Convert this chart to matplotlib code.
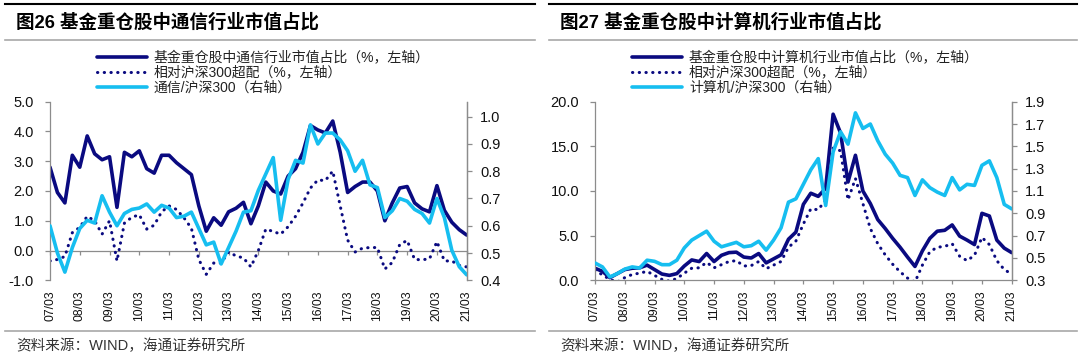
import numpy as np
import pandas as pd
import matplotlib
matplotlib.use('agg')
from matplotlib import pyplot as plt
from matplotlib.lines import Line2D

plt.rcParams['font.family'] = ['Liberation Sans', 'Noto Sans CJK SC', 'DejaVu Sans']

# quarterly dates, 2007Q1 .. 2021Q1
quarters = pd.period_range('2007Q1', '2021Q1', freq='Q')
years = list(range(2007, 2022))
year_labels = ['%02d/03' % (y % 100) for y in years]

# fig 26: telecom
tel_share = [2.8, 1.95, 1.6, 3.2, 2.8, 3.85, 3.25, 3.05, 3.15, 1.45,
             3.3, 3.15, 3.35, 2.75, 2.6, 3.2, 3.2, 2.95, 2.75, 2.55,
             1.5, 0.65, 1.1, 0.85, 1.3, 1.42, 1.62, 0.9, 1.5, 2.3,
             2.0, 1.9, 2.5, 2.75, 3.3, 4.2, 4.05, 3.95, 4.35, 3.3,
             1.95, 2.15, 2.3, 2.3, 2.0, 1.0, 1.6, 2.1, 2.15, 1.6,
             1.4, 1.3, 2.18, 1.35, 0.95, 0.7, 0.52]
tel_over = [-0.35, -0.3, -0.2, 0.6, 0.78, 1.15, 1.0, 0.55, 1.0, -0.35,
            0.92, 1.12, 1.2, 0.72, 0.85, 1.3, 1.5, 1.38, 1.1, 0.75,
            -0.3, -0.8, -0.42, -0.42, -0.05, -0.18, -0.25, -0.55, 0.0, 0.72,
            0.64, 0.55, 0.8, 1.15, 1.6, 2.1, 2.37, 2.35, 2.67, 1.5,
            0.35, -0.05, 0.08, 0.1, 0.1, -0.62, -0.4, 0.2, 0.34, -0.3,
            -0.31, -0.28, 0.3, -0.35, -0.35, -0.5, -0.55]
tel_rel = [0.60, 0.50, 0.43, 0.52, 0.59, 0.62, 0.61, 0.71, 0.65, 0.60,
           0.645, 0.66, 0.665, 0.68, 0.65, 0.675, 0.665, 0.63, 0.635, 0.65,
           0.59, 0.53, 0.54, 0.46, 0.52, 0.58, 0.65, 0.655, 0.73, 0.79,
           0.85, 0.62, 0.77, 0.84, 0.83, 0.97, 0.90, 0.94, 0.94, 0.915,
           0.875, 0.80, 0.84, 0.75, 0.74, 0.63, 0.655, 0.70, 0.69, 0.66,
           0.645, 0.61, 0.70, 0.63, 0.51, 0.45, 0.42]

# fig 27: computer
comp_share = [1.35, 1.0, 0.3, 0.75, 1.2, 1.35, 1.4, 1.7, 1.2, 0.7,
              0.55, 0.75, 1.6, 2.28, 2.1, 3.0, 2.1, 2.8, 3.1, 3.15,
              2.6, 2.5, 3.0, 1.95, 2.4, 2.85, 4.6, 5.4, 8.5, 9.75,
              9.4, 10.3, 18.6, 16.5, 11.0, 14.0, 10.0, 8.6, 6.8, 5.8,
              4.7, 3.7, 2.6, 1.55, 3.3, 4.7, 5.5, 5.6, 6.2, 4.95,
              4.5, 4.0, 7.5, 7.2, 4.5, 3.6, 3.1]
comp_over = [1.15, 0.6, 0.1, -0.2, 0.3, 0.65, 0.8, 1.0, 0.55, 0.1,
             -0.1, 0.2, 0.8, 1.35, 1.4, 2.0, 1.4, 1.75, 2.1, 2.2,
             1.6, 1.65, 2.1, 1.3, 1.7, 2.1, 3.7, 4.4, 6.3, 8.0,
             7.9, 9.0, 14.8, 14.5, 9.0, 11.4, 8.6, 5.8, 4.1, 2.85,
             1.8, 0.95, 0.25, -0.2, 1.7, 3.2, 3.7, 3.8, 4.1, 2.7,
             2.2, 2.8, 4.8, 4.0, 2.2, 1.2, 0.7]
comp_rel = [0.455, 0.42, 0.33, 0.36, 0.40, 0.42, 0.41, 0.48, 0.47, 0.44,
            0.44, 0.48, 0.59, 0.66, 0.70, 0.74, 0.65, 0.60, 0.62, 0.64,
            0.60, 0.61, 0.65, 0.57, 0.66, 0.77, 1.0, 1.03, 1.16, 1.29,
            1.39, 0.97, 1.45, 1.63, 1.52, 1.80, 1.66, 1.70, 1.55, 1.43,
            1.35, 1.24, 1.22, 1.06, 1.20, 1.13, 1.09, 1.06, 1.22, 1.11,
            1.16, 1.15, 1.33, 1.37, 1.22, 0.98, 0.94]

tel_legend = ['基金重仓股中通信行业市值占比（%，左轴）',
              '相对沪深300超配（%，左轴）',
              '通信/沪深300（右轴）']
comp_legend = ['基金重仓股中计算机行业市值占比（%，左轴）',
               '相对沪深300超配（%，左轴）',
               '计算机/沪深300（右轴）']

NAVY = '#0A0A80'
SKY = '#16BEF0'
GRAY = '#8C8C8C'

W, H = 1080, 357
fig = plt.figure(figsize=(W / 100, H / 100), dpi=100)

x = quarters.year + (quarters.quarter - 1) / 4.0


def fx(px):
    return px / W


def fy(py):
    return 1 - py / H


def panel(x0, x1, ax_left, title, leg_labels, share, over, rel,
          lim1, ticks1, lim2, ticks2, zero_line):
    # frame lines
    fig.add_artist(Line2D([fx(x0), fx(x1)], [fy(4), fy(4)], color='black', lw=1.5))
    fig.add_artist(Line2D([fx(x0), fx(x1)], [fy(39.5), fy(39.5)], color='#A8A8A8', lw=1.2))
    fig.add_artist(Line2D([fx(x0), fx(x1)], [fy(331), fy(331)], color='#A8A8A8', lw=1.2))
    fig.text(fx(x0 + 11.5), fy(22.5), title, fontsize=13.3, fontweight='bold',
             va='center', ha='left', color='black')
    fig.text(fx(x0 + 11.5), fy(346), '资料来源：WIND，海通证券研究所', fontsize=10.5,
             va='center', ha='left', color='#333333')

    ax = fig.add_axes([fx(ax_left), fy(280.3), fx(416.7), fy(101.7) - fy(280.3)])
    ax2 = ax.twinx()

    l1, = ax.plot(x, share, color=NAVY, lw=2.6, solid_capstyle='round')
    l2, = ax.plot(x, over, color=NAVY, lw=2.2, linestyle=(0, (0.1, 2.1)),
                  dash_capstyle='round')
    l3, = ax2.plot(x, rel, color=SKY, lw=2.6, solid_capstyle='round')

    ax.set_xlim(2007, 2021)
    ax.set_ylim(*lim1)
    ax.set_yticks(ticks1)
    ax.set_yticklabels(['%.1f' % t for t in ticks1])
    ax2.set_ylim(*lim2)
    ax2.set_yticks(ticks2)
    ax2.set_yticklabels(['%.1f' % t for t in ticks2])

    ax.set_xticks(years)
    ax.set_xticklabels(year_labels, rotation=90, fontsize=8.8)

    for a in (ax, ax2):
        a.spines['top'].set_visible(False)
        for s in ('left', 'right', 'bottom'):
            a.spines[s].set_color(GRAY)
            a.spines[s].set_linewidth(0.9)
    ax2.spines['bottom'].set_visible(False)
    ax2.spines['left'].set_visible(False)

    ax.tick_params(axis='y', direction='out', length=3.5, width=0.9, color=GRAY,
                   pad=8, labelsize=10.5, labelcolor='#111111')
    ax2.tick_params(axis='y', direction='out', length=3.5, width=0.9, color=GRAY,
                    pad=6, labelsize=10.5, labelcolor='#111111')

    if zero_line:
        # category axis crosses at 0, labels stay at the bottom
        ax.spines['bottom'].set_visible(False)
        ax.tick_params(axis='x', length=0, pad=7, labelcolor='#111111')
        frac = (0 - lim1[0]) / (lim1[1] - lim1[0])
        sec = ax.secondary_xaxis(frac)
        sec.set_xticks(years)
        sec.tick_params(axis='x', direction='out', length=3, width=0.9,
                        color=GRAY, labelbottom=False)
        sec.spines['bottom'].set_color(GRAY)
        sec.spines['bottom'].set_linewidth(0.9)
    else:
        ax.tick_params(axis='x', direction='out', length=3, width=0.9, color=GRAY,
                       pad=4.5, labelcolor='#111111')

    leg = ax2.legend([l1, l2, l3], leg_labels, loc='upper left',
                     bbox_to_anchor=(fx(ax_left + (47 if zero_line else 37)), fy(51)),
                     bbox_transform=fig.transFigure, frameon=False, fontsize=10,
                     handlelength=3.6, handletextpad=0.5, labelspacing=0.05,
                     borderpad=0, borderaxespad=0)
    for t in leg.get_texts():
        t.set_color('#222222')


panel(5, 535, 50, '图26 基金重仓股中通信行业市值占比', tel_legend,
      tel_share, tel_over, tel_rel,
      (-1.0, 5.0), [-1.0, 0.0, 1.0, 2.0, 3.0, 4.0, 5.0],
      (0.4, 1.055), [0.4, 0.5, 0.6, 0.7, 0.8, 0.9, 1.0], True)

panel(548.5, 1077, 595, '图27 基金重仓股中计算机行业市值占比', comp_legend,
      comp_share, comp_over, comp_rel,
      (0.0, 20.0), [0.0, 5.0, 10.0, 15.0, 20.0],
      (0.3, 1.9), [0.3, 0.5, 0.7, 0.9, 1.1, 1.3, 1.5, 1.7, 1.9], False)

fig.savefig('out.png', dpi=100)
